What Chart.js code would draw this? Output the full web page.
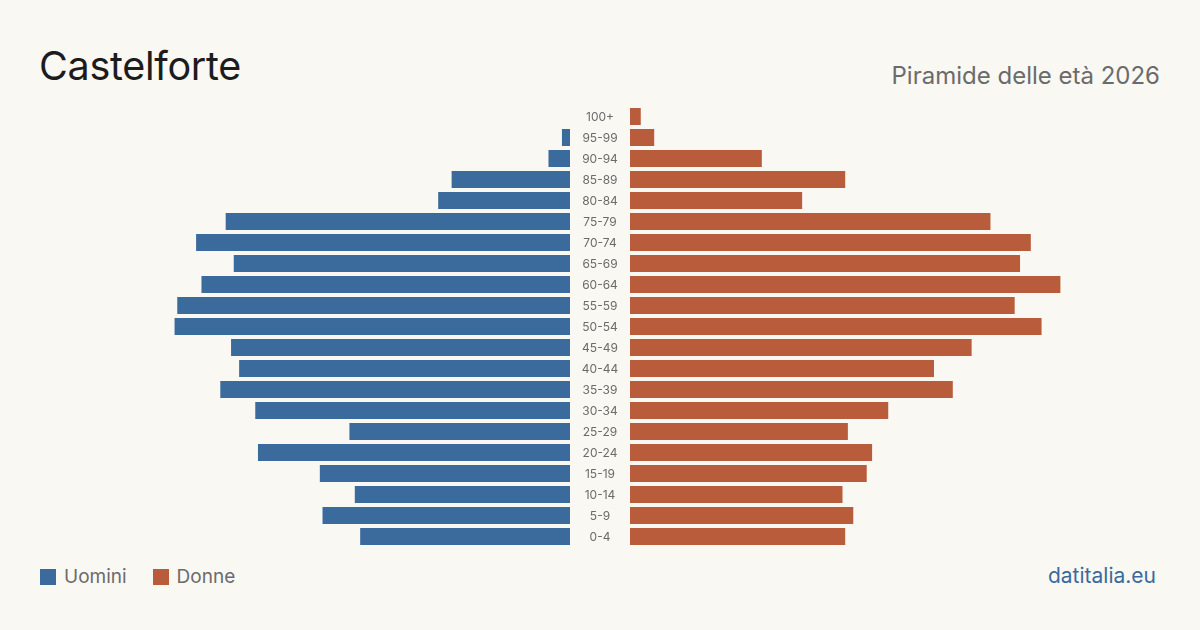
<!DOCTYPE html>
<html lang="it">
<head>
<meta charset="utf-8">
<script src="https://cdn.jsdelivr.net/npm/chart.js@4"></script>
<style>
  html, body { margin:0; padding:0; background:#faf8f3; }
  body { width:1200px; height:630px; position:relative; overflow:hidden; font-family:'Inter', sans-serif; }
  .title { position:absolute; left:39px; top:42px; font-size:39.5px; color:#1c1c1c; font-weight:400; letter-spacing:-0.3px; }
  .sub { position:absolute; right:40px; top:61px; font-size:24px; color:#6b6b6b; }
  .legend { position:absolute; left:40px; top:565px; display:flex; align-items:center; font-size:19px; color:#6b6b6b; }
  .legend .sw { width:16px; height:16px; display:inline-block; margin-right:8px; }
  .legend .item { display:flex; align-items:center; margin-right:26px; }
  .brand { position:absolute; right:44px; top:563px; font-size:21px; color:#3b6a9c; }
  #cL { position:absolute; left:32px; top:106px; }
  #cR { position:absolute; left:570px; top:106px; }
</style>
</head>
<body>
<div class="title">Castelforte</div>
<div class="sub">Piramide delle età 2026</div>
<canvas id="cL" width="538" height="441"></canvas>
<canvas id="cR" width="598" height="441"></canvas>
<div class="legend">
  <div class="item"><span class="sw" style="background:#3b6a9c"></span>Uomini</div>
  <div class="item"><span class="sw" style="background:#b95c3c"></span>Donne</div>
</div>
<div class="brand">datitalia.eu</div>
<script>
// fasce d'età, dall'alto verso il basso
const fasce = ['100+','95-99','90-94','85-89','80-84','75-79','70-74','65-69','60-64','55-59','50-54',
  '45-49','40-44','35-39','30-34','25-29','20-24','15-19','10-14','5-9','0-4'];
const uomini = [0,3,8,44,49,128,139,125,137,146,147,126,123,130,117,82,116,93,80,92,78];
const donne  = [4,9,49,80,64,134,149,145,160,143,153,127,113,120,96,81,90,88,79,83,80];
const maxVal = 200;

const BLU = '#3b6a9c', ARANCIO = '#b95c3c';

const base = {
  indexAxis: 'y',
  responsive: false,
  animation: false,
  plugins: { legend: { display: false }, tooltip: { enabled: false } },
};

// etichette delle fasce al centro, tra le due metà
const etichette = {
  id: 'etichette',
  afterDraw(chart) {
    const { ctx, scales: { y }, chartArea } = chart;
    ctx.save();
    ctx.font = '12px Inter';
    ctx.fillStyle = '#6b6b6b';
    ctx.textAlign = 'center';
    ctx.textBaseline = 'middle';
    fasce.forEach((f, i) => ctx.fillText(f, chartArea.left - 30, y.getPixelForValue(i) + 1));
    ctx.restore();
  }
};

new Chart(document.getElementById('cL'), {
  type: 'bar',
  data: { labels: fasce, datasets: [{ data: uomini, backgroundColor: BLU, barPercentage: 0.81, categoryPercentage: 1 }] },
  options: {
    ...base,
    layout: { padding: 0 },
    scales: {
      x: { display: false, min: 0, max: maxVal, reverse: true },
      y: { display: false }
    }
  }
});

new Chart(document.getElementById('cR'), {
  type: 'bar',
  data: { labels: fasce, datasets: [{ data: donne, backgroundColor: ARANCIO, barPercentage: 0.81, categoryPercentage: 1 }] },
  options: {
    ...base,
    layout: { padding: { left: 60 } },
    scales: {
      x: { display: false, min: 0, max: maxVal },
      y: { display: false }
    }
  },
  plugins: [etichette]
});
</script>
</body>
</html>
